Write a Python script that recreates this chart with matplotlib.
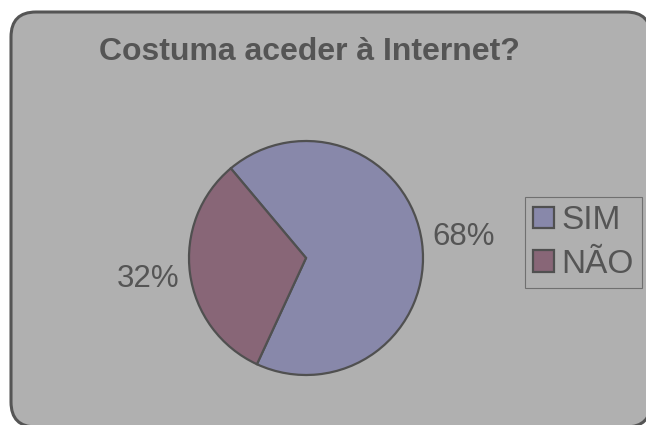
import matplotlib.pyplot as plt
from matplotlib.patches import FancyBboxPatch, Patch
from matplotlib.transforms import IdentityTransform

# data
labels = ["SIM", "NÃO"]
values = [68, 32]
colors = ["#8888AA", "#886677"]
title = "Costuma aceder à Internet?"

plt.rcParams["font.family"] = ["Liberation Sans", "DejaVu Sans"]
text_color = "#555555"

fig = plt.figure(figsize=(6.46, 4.25), dpi=100)
fig.patch.set_facecolor("white")

# rounded chart area (pixel coords), drawn beneath the axes
box = FancyBboxPatch((11 + 25, -2 + 25), 640 - 50, 415 - 50,
                     boxstyle="round,pad=25", transform=IdentityTransform(),
                     facecolor="#B0B0B0", edgecolor="#555555", linewidth=2.2,
                     zorder=-10)
fig.patches.append(box)

# pie axes: centre (306, 258) px from top, radius ~117 px
r = 117
ax = fig.add_axes([(306 - r) / 646, (425 - 258 - r) / 425, 2 * r / 646, 2 * r / 425])
ax.set_facecolor("none")
wedges, texts, autotexts = ax.pie(
    values, colors=colors, startangle=130, counterclock=False,
    autopct="%1.0f%%", pctdistance=1.36,
    wedgeprops=dict(edgecolor="#505050", linewidth=1.6),
    textprops=dict(color=text_color, fontsize=22.5))
ax.set_xlim(-1, 1)
ax.set_ylim(-1, 1)
ax.set_aspect("equal")
ax.axis("off")

fig.text(309 / 646, (425 - 52) / 425, title, ha="center", va="center",
         fontsize=23, fontweight="bold", color=text_color)

handles = [Patch(facecolor=c, edgecolor="#505050", linewidth=1.6) for c in colors]
leg = fig.legend(handles, labels, loc="upper left",
                 bbox_to_anchor=(525 / 646, (425 - 197) / 425),
                 borderaxespad=0, fontsize=24, frameon=True, fancybox=False,
                 handlelength=0.62, handleheight=0.62, handletextpad=0.22,
                 borderpad=0.25, labelspacing=0.38)
leg.get_frame().set_facecolor("#B0B0B0")
leg.get_frame().set_edgecolor("#606060")
leg.get_frame().set_linewidth(0.8)
for t in leg.get_texts():
    t.set_color(text_color)

fig.savefig("out.png", dpi=100)
